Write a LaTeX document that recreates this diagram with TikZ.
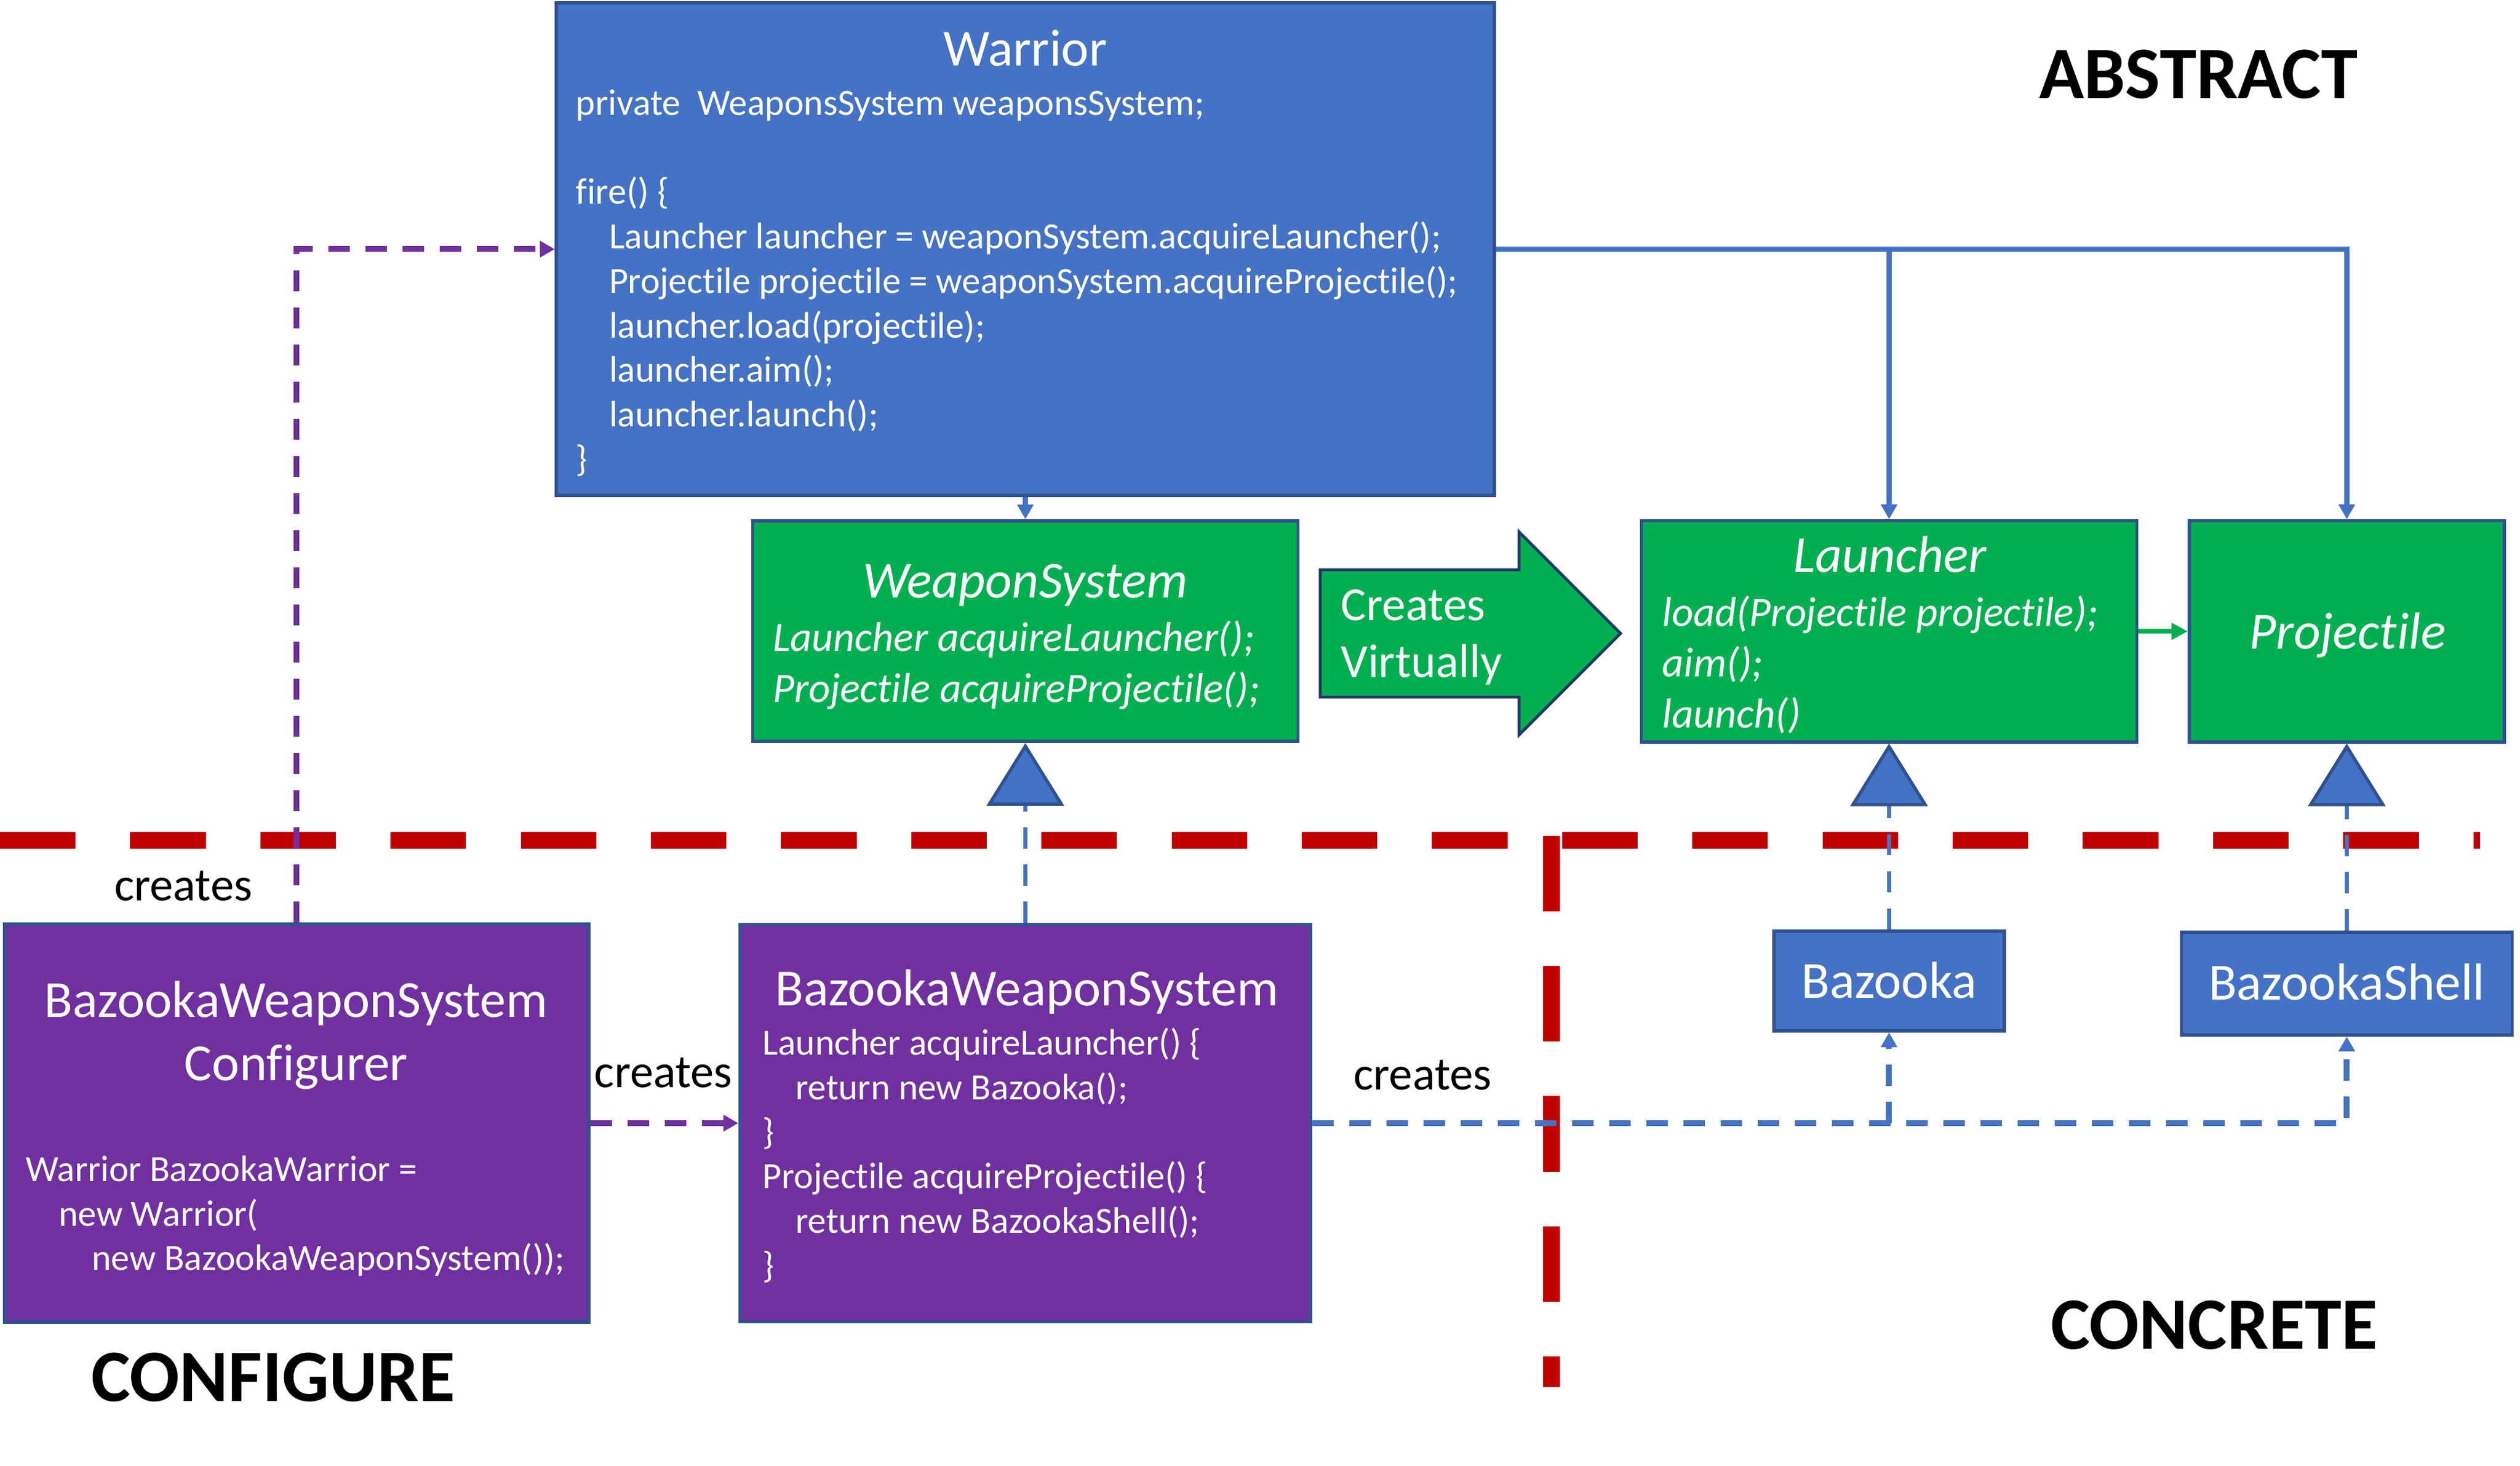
\documentclass[tikz,border=0pt]{standalone}
\usepackage{fontspec}
\setmainfont[Ligatures=NoCommon]{Carlito}
\usepackage{tikz}
\usetikzlibrary{arrows.meta}

\definecolor{boxblue}{HTML}{4472C4}
\definecolor{edgeblue}{HTML}{2F528F}
\definecolor{boxgreen}{HTML}{00B050}
\definecolor{boxpurple}{HTML}{7030A0}
\definecolor{arrownavy}{HTML}{1F3864}
\definecolor{splitred}{HTML}{C00000}

\newcommand{\codeind}{\hspace*{10.3pt}}

\begin{document}
\begin{tikzpicture}[x=1pt, y=-1pt,
  classbox/.style={draw=edgeblue, line width=1pt, inner sep=0pt},
  titletext/.style={white, inner sep=0pt, font=\fontsize{16.2}{19.6}\selectfont},
  codetext/.style={white, align=left, inner sep=0pt, font=\fontsize{11.5}{13.85}\selectfont},
  abscode/.style={white, align=left, inner sep=0pt, font=\fontsize{13}{15.75}\selectfont\itshape},
  labeltext/.style={black, inner sep=0pt, font=\fontsize{14.6}{17.5}\selectfont},
  areatext/.style={black, inner sep=0pt, font=\fontsize{23}{27}\selectfont\bfseries},
  bluelink/.style={boxblue, line width=1.5pt, -{Triangle[length=4.6pt, width=4.9pt]}},
  greenlink/.style={boxgreen, line width=1.5pt, -{Triangle[length=5pt, width=5pt]}},
  createlink/.style={line width=1.8pt, dash pattern=on 6.65pt off 4.9pt, -{Triangle[length=4.6pt, width=4.9pt]}},
  inherit/.style={boxblue, line width=1.4pt, dash pattern=on 6.65pt off 4.9pt,
    -{Triangle[length=19.5pt, width=24pt, color=edgeblue, fill=boxblue, line width=1pt]}},
  splitline/.style={splitred, line width=5.3pt, dash pattern=on 23.5pt off 17pt}
]
\useasboundingbox (0,0) rectangle (784,456);

% abstract / concrete split
\draw[splitline] (0,261.45) -- (771.5,261.45);
\draw[splitline] (482.65,260) -- (482.65,431.5);

% Warrior (multi-line nodes sit on their last baseline)
\node[classbox, fill=boxblue, minimum width=291.85pt, minimum height=153.25pt] (warrior) at (319,77.5) {};
\node[titletext, anchor=base] (warriortitle) at (319,20.5) {Warrior};
\node[codetext, anchor=base west] (warriorcode) at (179,146.6) {private\ \ WeaponsSystem weaponsSystem;\\[13.9pt]
  fire() \{\\
  \codeind Launcher launcher = weaponSystem.acquireLauncher();\\
  \codeind Projectile projectile = weaponSystem.acquireProjectile();\\
  \codeind launcher.load(projectile);\\
  \codeind launcher.aim();\\
  \codeind launcher.launch();\\
  \}};

% abstract classes
\node[classbox, fill=boxgreen, minimum width=169.65pt, minimum height=68.65pt] (ws) at (319,196.35) {};
\node[titletext, font=\fontsize{16.2}{19.6}\selectfont\itshape, anchor=base] (wstitle) at (319,185.9) {WeaponSystem};
\node[abscode, anchor=base west] (wscode) at (240.25,218.4) {Launcher acquireLauncher();\\ Projectile acquireProjectile();};

\node[classbox, fill=boxgreen, minimum width=154.1pt, minimum height=68.8pt] (launcher) at (587.7,196.4) {};
\node[titletext, font=\fontsize{16.2}{19.6}\selectfont\itshape, anchor=base] (launchertitle) at (588,178.1) {Launcher};
\node[abscode, anchor=base west] (launchercode) at (517,226.35) {load(Projectile projectile);\\ aim();\\ launch()};

\node[classbox, fill=boxgreen, minimum width=98pt, minimum height=68.8pt] (projectile) at (730.1,196.4) {};
\node[titletext, font=\fontsize{16.2}{19.6}\selectfont\itshape, anchor=base] (projectiletitle) at (730.3,201.8) {Projectile};

% Creates Virtually block arrow
\draw[arrownavy, line width=0.9pt, fill=boxgreen] (410.75,177.25) -- (472.6,177.25) -- (472.6,165.5) -- (504.15,197.05)
  -- (472.6,228.6) -- (472.6,216.85) -- (410.75,216.85) -- cycle;
\node[white, align=left, inner sep=0pt, font=\fontsize{14.75}{17.7}\selectfont, anchor=base west] (virtual) at (417,210.65) {Creates\\ Virtually};

% concrete classes
\node[classbox, fill=boxblue, minimum width=71.65pt, minimum height=31pt] (bazooka) at (587.7,305.2) {};
\node[titletext, anchor=base] (bazookatitle) at (587.7,310.45) {Bazooka};
\node[classbox, fill=boxblue, minimum width=102.9pt, minimum height=32pt] (shell) at (730.1,306) {};
\node[titletext, anchor=base] (shelltitle) at (730.1,311.1) {BazookaShell};

\node[classbox, fill=boxpurple, minimum width=177.65pt, minimum height=123.6pt] (bws) at (319,349.4) {};
\node[titletext, anchor=base] (bwstitle) at (319.5,312.9) {BazookaWeaponSystem};
\node[codetext, anchor=base west] (bwscode) at (237,397.45) {Launcher acquireLauncher() \{\\
  \codeind return new Bazooka();\\
  \}\\
  Projectile acquireProjectile() \{\\
  \codeind return new BazookaShell();\\
  \}};

% configurer
\node[classbox, fill=boxpurple, minimum width=181.8pt, minimum height=123.75pt] (conf) at (92.3,349.4) {};
\node[titletext, align=center, anchor=base] (conftitle) at (92.15,336.1) {BazookaWeaponSystem\\ Configurer};
\node[codetext, anchor=base west] (confcode) at (7.75,395.2) {Warrior BazookaWarrior =\\
  \codeind new Warrior(\\
  \codeind\codeind new BazookaWeaponSystem());};

% connectors
\draw[bluelink] (warrior.south) -- (ws.north);
\draw[bluelink] (warrior.east) -| (projectile.north);
\draw[bluelink] (launcher.north |- warrior.east) -- (launcher.north);
\draw[greenlink] (launcher.east) -- (projectile.west);
\draw[inherit] (bws.north) -- (ws.south);
\draw[inherit] (bazooka.north) -- (launcher.south);
\draw[inherit] (shell.north) -- (projectile.south);
\draw[createlink, boxpurple] (conf.north) |- (warrior.west);
\draw[createlink, boxpurple] (conf.east) -- (bws.west);
\draw[createlink, boxblue] (bws.east) -| (shell.south);
\draw[createlink, boxblue] (bazooka.south |- bws.east) -- (bazooka.south);

% labels
\node[labeltext, anchor=base] (createsconf) at (57.05,280.2) {creates};
\node[labeltext, anchor=base] (createsbws) at (206.4,338.3) {creates};
\node[labeltext, anchor=base] (createsconcrete) at (442.6,339) {creates};
\node[areatext, anchor=base] (abstractlabel) at (684,30.5) {ABSTRACT};
\node[areatext, anchor=base] (concretelabel) at (688.85,419.65) {CONCRETE};
\node[areatext, anchor=base] (configurelabel) at (85,435.85) {CONFIGURE};
\end{tikzpicture}
\end{document}
